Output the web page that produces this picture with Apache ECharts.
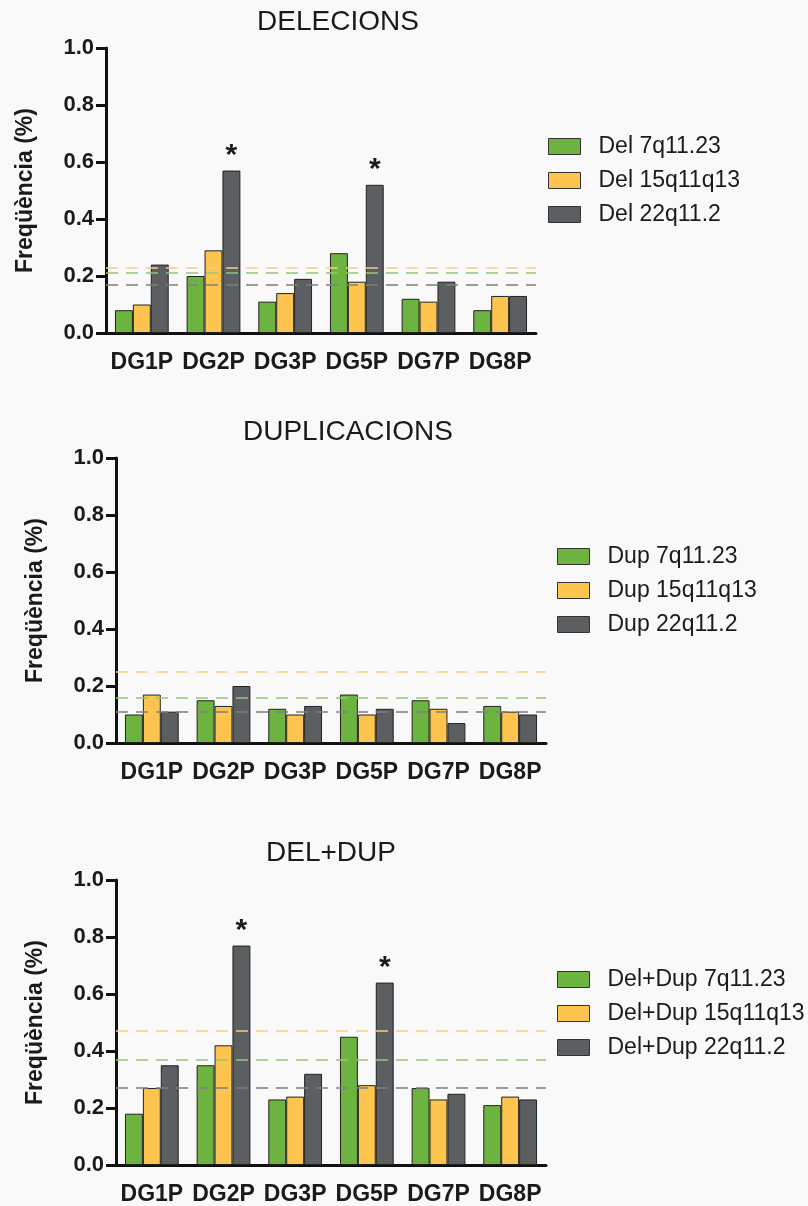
<!DOCTYPE html>
<html>
<head>
<meta charset="utf-8">
<script src="https://cdn.jsdelivr.net/npm/echarts@6/dist/echarts.min.js"></script>
<style>
html,body{margin:0;padding:0;background:#f9f9f9;}
#c{width:808px;height:1206px;}
</style>
</head>
<body>
<div id="c"></div>
<script>
const categories = ['DG1P', 'DG2P', 'DG3P', 'DG5P', 'DG7P', 'DG8P'];
const yTicks = [0, 0.2, 0.4, 0.6, 0.8, 1.0];

const panelTitles = ['DELECIONS', 'DUPLICACIONS', 'DEL+DUP'];
const legendNames = [
  ['Del 7q11.23', 'Del 15q11q13', 'Del 22q11.2'],
  ['Dup 7q11.23', 'Dup 15q11q13', 'Dup 22q11.2'],
  ['Del+Dup 7q11.23', 'Del+Dup 15q11q13', 'Del+Dup 22q11.2']
];

// DELECIONS
const delGreen  = [0.08, 0.20, 0.11, 0.28, 0.12, 0.08];
const delYellow = [0.10, 0.29, 0.14, 0.18, 0.11, 0.13];
const delGrey   = [0.24, 0.57, 0.19, 0.52, 0.18, 0.13];
const delRefs   = [0.212, 0.227, 0.168]; // green, yellow, grey
const delStars  = [1, 3];

// DUPLICACIONS
const dupGreen  = [0.10, 0.15, 0.12, 0.17, 0.15, 0.13];
const dupYellow = [0.17, 0.13, 0.10, 0.10, 0.12, 0.11];
const dupGrey   = [0.11, 0.20, 0.13, 0.12, 0.07, 0.10];
const dupRefs   = [0.161, 0.249, 0.114];
const dupStars  = [];

// DEL+DUP
const ddGreen  = [0.18, 0.35, 0.23, 0.45, 0.27, 0.21];
const ddYellow = [0.27, 0.42, 0.24, 0.28, 0.23, 0.24];
const ddGrey   = [0.35, 0.77, 0.32, 0.64, 0.25, 0.23];
const ddRefs   = [0.366, 0.465, 0.269];
const ddStars  = [1, 3];

const panels = [
  {g: delGreen, y: delYellow, k: delGrey, refs: delRefs, stars: delStars},
  {g: dupGreen, y: dupYellow, k: dupGrey, refs: dupRefs, stars: dupStars},
  {g: ddGreen,  y: ddYellow,  k: ddGrey,  refs: ddRefs,  stars: ddStars}
];

const FONT = '"Liberation Sans", Arial, Helvetica, sans-serif';
const barColors = ['#6db33f', '#fdc44f', '#5b5f61'];
const refColors = ['#93c777', '#f3cf84', '#7f7f7f'];

const layout = [
  {left: 106, top: 48, titleX: 338, titleY: 8, legX: 543, legY: 130, nameGap: 69},
  {left: 116, top: 458, titleX: 348, titleY: 418, legX: 552, legY: 540, nameGap: 69},
  {left: 116, top: 880, titleX: 331, titleY: 839, legX: 552, legY: 963, nameGap: 69}
];
const gridW = 430, gridH = 285;

const grids = [], xAxes = [], yAxes = [], series = [], legends = [], titles = [];

panels.forEach((p, i) => {
  const L = layout[i];
  grids.push({left: L.left, top: L.top, width: gridW, height: gridH, containLabel: false});
  titles.push({
    text: panelTitles[i], left: L.titleX, top: L.titleY, textAlign: 'center', padding: 0,
    textStyle: {fontFamily: FONT, fontSize: 28, fontWeight: 'normal', color: '#1a1a1a'}
  });
  xAxes.push({
    type: 'category', gridIndex: i, data: categories,
    axisLine: {lineStyle: {color: '#111', width: 3}},
    axisTick: {alignWithLabel: true, length: 9, lineStyle: {width: 3, color: '#111'}},
    axisLabel: {interval: 0, fontFamily: FONT, fontSize: 23, fontWeight: 'bold', color: '#1a1a1a', margin: 18}
  });
  yAxes.push({
    type: 'value', gridIndex: i, min: 0, max: 1, interval: 0.2,
    name: 'Freqüència (%)', nameLocation: 'middle', nameRotate: 90, nameGap: L.nameGap,
    nameTextStyle: {fontFamily: FONT, fontSize: 23, fontWeight: 'bold', color: '#1a1a1a'},
    axisLine: {show: true, lineStyle: {color: '#111', width: 3}},
    axisTick: {show: true, length: 10, lineStyle: {width: 3, color: '#111'}},
    splitLine: {show: false},
    axisLabel: {fontFamily: FONT, fontSize: 22, fontWeight: 'bold', color: '#1a1a1a', margin: 12,
      formatter: v => (yTicks.includes(+v.toFixed(1)) ? v.toFixed(1) : '')}
  });
  const sets = [p.g, p.y, p.k];
  sets.forEach((vals, j) => {
    const data = vals.map((v, idx) => {
      if (j === 2 && p.stars.includes(idx)) {
        return {value: v, label: {show: true, formatter: '*', position: 'top', distance: 0,
          fontFamily: FONT, fontSize: 30, fontWeight: 'bold', color: '#1a1a1a'}};
      }
      return v;
    });
    const s = {
      name: legendNames[i][j], type: 'bar', xAxisIndex: i, yAxisIndex: i, data: data,
      barGap: '0%', barCategoryGap: '25%',
      itemStyle: {color: barColors[j], borderColor: '#222', borderWidth: 1},
      emphasis: {disabled: true}, animation: false
    };
    if (j === 2) {
      s.markLine = {
        silent: true, symbol: 'none', label: {show: false}, animation: false,
        data: p.refs.map((r, m) => ({yAxis: r, lineStyle: {color: refColors[m], type: [12, 8], width: 1.6}}))
      };
    }
    series.push(s);
  });
  legends.push({
    orient: 'vertical', left: L.legX, top: L.legY, icon: 'rect',
    data: legendNames[i], itemWidth: 32, itemHeight: 16, itemGap: 11,
    itemStyle: {borderColor: '#333', borderWidth: 1},
    textStyle: {fontFamily: FONT, fontSize: 23, color: '#1a1a1a', lineHeight: 22, padding: [0, 0, 0, 13]},
    selectedMode: false
  });
});

const chart = echarts.init(document.getElementById('c'), null, {renderer: 'canvas'});
chart.setOption({
  backgroundColor: '#f9f9f9',
  animation: false,
  title: titles,
  grid: grids,
  xAxis: xAxes,
  yAxis: yAxes,
  legend: legends,
  series: series
});
</script>
</body>
</html>
